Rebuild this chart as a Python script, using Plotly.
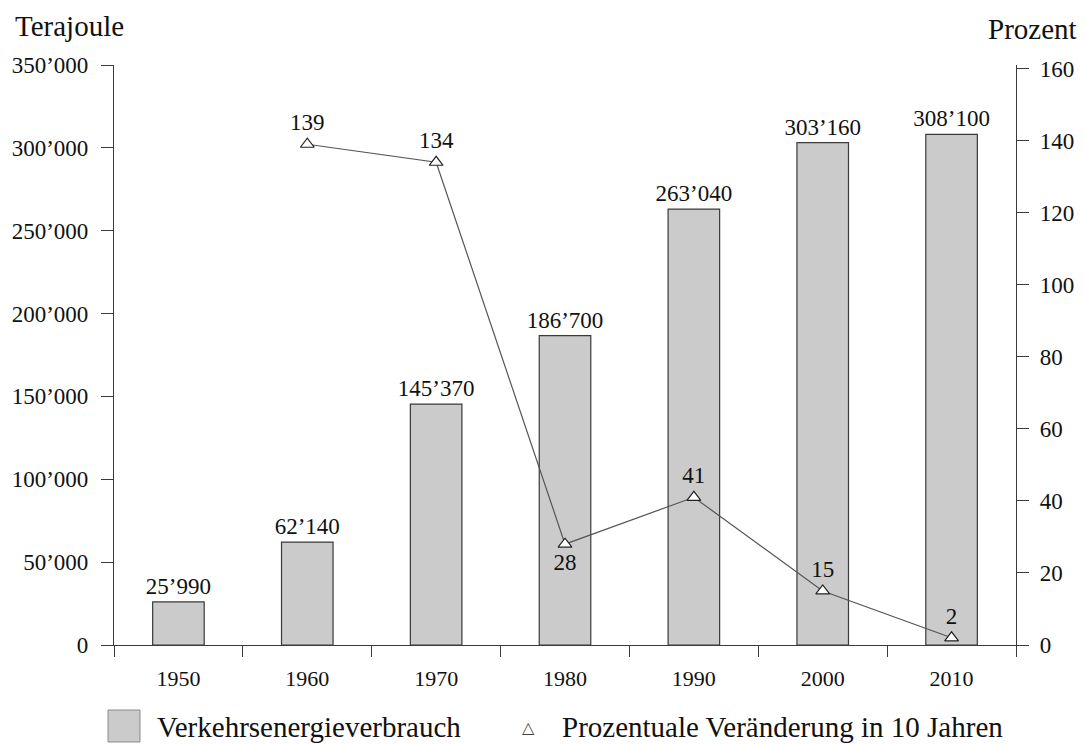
import plotly.graph_objects as go

years = ["1950", "1960", "1970", "1980", "1990", "2000", "2010"]
energy_tj = [25990, 62140, 145370, 186700, 263040, 303160, 308100]
change_years = ["1960", "1970", "1980", "1990", "2000", "2010"]
change_pct = [139, 134, 28, 41, 15, 2]
change_text_pos = ["top center", "top center", "bottom center", "top center", "top center", "top center"]
left_ticks = [0, 50000, 100000, 150000, 200000, 250000, 300000, 350000]
right_ticks = [0, 20, 40, 60, 80, 100, 120, 140, 160]

FONT = "Liberation Serif"
BAR_FILL = "#cbcbcb"
EDGE = "#3a3a3a"

fig = go.Figure()
fig.add_trace(go.Bar(
    x=years, y=energy_tj, name="Verkehrsenergieverbrauch",
    width=0.4,
    marker=dict(color=BAR_FILL, line=dict(color=EDGE, width=1.2)),
    texttemplate="%{y:,}", textposition="outside", constraintext="none",
    outsidetextfont=dict(family=FONT, size=23, color="#111"),
    cliponaxis=False, showlegend=False,
))
fig.add_trace(go.Scatter(
    x=change_years, y=change_pct, yaxis="y2", name="Prozentuale Veränderung in 10 Jahren",
    mode="lines+markers+text",
    line=dict(color="#555", width=1.2),
    marker=dict(symbol="triangle-up", size=12, color="white", line=dict(color="#222", width=1.2)),
    text=[str(v) for v in change_pct], textposition=change_text_pos,
    textfont=dict(family=FONT, size=23, color="#111"),
    cliponaxis=False, showlegend=False,
))

fig.update_layout(
    width=1077, height=736,
    margin=dict(l=106, r=69, t=57, b=99, autoexpand=False),
    paper_bgcolor="white", plot_bgcolor="white",
    separators=".’",
    font=dict(family=FONT, size=23, color="#111"),
    xaxis=dict(
        type="category", range=[-0.5, 6.5], automargin=False,
        showline=True, linecolor=EDGE, linewidth=1.2,
        ticks="outside", tickson="boundaries", ticklen=11, tickcolor=EDGE,
        showgrid=False, zeroline=False, ticklabelstandoff=13,
        tickfont=dict(family=FONT, size=22),
    ),
    yaxis=dict(
        range=[0, 350000], tickvals=left_ticks, tickformat=",", automargin=False,
        showline=True, linecolor=EDGE, linewidth=1.2,
        ticks="outside", ticklen=12, tickcolor=EDGE, ticklabelstandoff=8,
        showgrid=False, zeroline=False,
        tickfont=dict(family=FONT, size=23),
    ),
    yaxis2=dict(
        range=[0, 161], tickvals=right_ticks, overlaying="y", side="right", automargin=False,
        showline=True, linecolor=EDGE, linewidth=1.2,
        ticks="outside", ticklen=12, tickcolor=EDGE, ticklabelstandoff=6,
        showgrid=False, zeroline=False,
        tickfont=dict(family=FONT, size=23),
    ),
    annotations=[
        dict(text="Terajoule", xref="paper", yref="paper", x=-0.112, y=1.067,
             xanchor="left", yanchor="middle", showarrow=False,
             font=dict(family=FONT, size=29)),
        dict(text="Prozent", xref="paper", yref="paper", x=1.0698, y=1.062,
             xanchor="right", yanchor="middle", showarrow=False,
             font=dict(family=FONT, size=29)),
        dict(text="Verkehrsenergieverbrauch", xref="paper", yref="paper", x=0.0455, y=-0.1414,
             xanchor="left", yanchor="middle", showarrow=False,
             font=dict(family=FONT, size=29)),
        dict(text="△", xref="paper", yref="paper", x=0.459, y=-0.1414,
             xanchor="center", yanchor="middle", showarrow=False,
             font=dict(family="DejaVu Sans", size=16, color="#444")),
        dict(text="Prozentuale Veränderung in 10 Jahren", xref="paper", yref="paper", x=0.4945, y=-0.1414,
             xanchor="left", yanchor="middle", showarrow=False,
             font=dict(family=FONT, size=29)),
    ],
    shapes=[
        dict(type="rect", xref="paper", yref="paper", x0=-0.0066, x1=0.0288, y0=-0.1672, y1=-0.1121,
             fillcolor=BAR_FILL, line=dict(color="#888", width=1)),
    ],
)

fig.write_html("out.html")
